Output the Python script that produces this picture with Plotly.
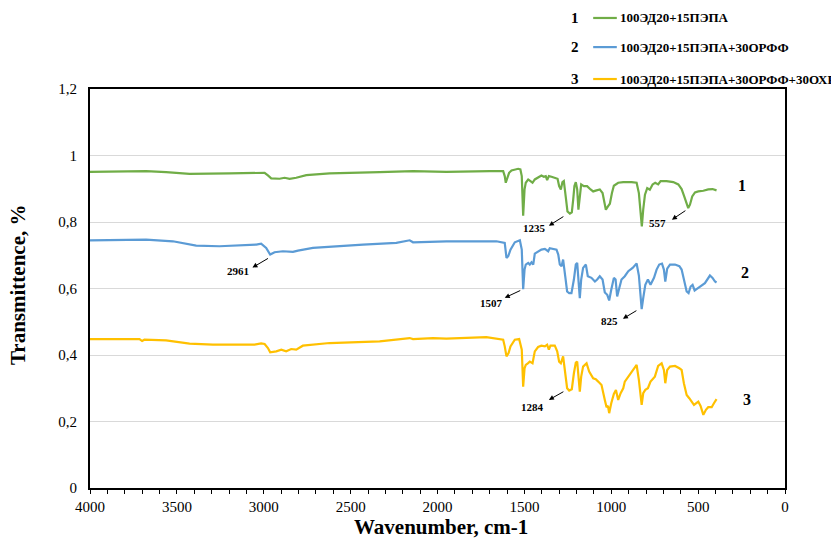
import plotly.graph_objects as go

# ---------------- data ----------------
wn_1 = [4003, 3677, 3562, 3427, 3197, 3024, 2995, 2976, 2957, 2909, 2880, 2851, 2813, 2755, 2621, 2333, 2141, 1949, 1757,
        1699, 1622, 1613, 1607, 1597, 1588, 1574, 1536, 1523, 1515, 1507, 1499, 1492, 1478, 1465, 1453, 1440, 1421, 1402,
        1388, 1377, 1369, 1359, 1344, 1325, 1309, 1300, 1290, 1281, 1273, 1261, 1252, 1238, 1227, 1219, 1212, 1204, 1196,
        1189, 1181, 1173, 1158, 1139, 1119, 1104, 1085, 1066, 1050, 1041, 1031, 1019, 1008, 996, 985, 960, 931, 883, 854,
        841, 831, 824, 816, 806, 793, 778, 762, 747, 730, 716, 682, 643, 614, 595, 580, 566, 557, 547, 534, 518, 499, 470,
        442, 417, 403, 394]
tr_1 = [0.951, 0.953, 0.950, 0.945, 0.946, 0.948, 0.948, 0.940, 0.931, 0.930, 0.933, 0.930, 0.933, 0.941, 0.946, 0.950, 0.953, 0.951, 0.954,
        0.953, 0.953, 0.938, 0.918, 0.933, 0.948, 0.955, 0.960, 0.958, 0.938, 0.819, 0.898, 0.918, 0.928, 0.923, 0.918, 0.928, 0.935, 0.940,
        0.936, 0.938, 0.926, 0.938, 0.936, 0.933, 0.930, 0.908, 0.898, 0.920, 0.923, 0.872, 0.832, 0.825, 0.829, 0.867, 0.908, 0.920, 0.898,
        0.837, 0.877, 0.913, 0.908, 0.908, 0.898, 0.892, 0.895, 0.898, 0.887, 0.862, 0.837, 0.847, 0.855, 0.887, 0.909, 0.918, 0.920, 0.920, 0.918,
        0.887, 0.827, 0.787, 0.837, 0.882, 0.902, 0.897, 0.913, 0.918, 0.913, 0.923, 0.923, 0.920, 0.913, 0.899, 0.877, 0.852, 0.842, 0.852, 0.877, 0.889, 0.892, 0.894,
        0.898, 0.899, 0.895, 0.895]

wn_2 = [4003, 3677, 3523, 3389, 3255, 3101, 3043, 3015, 2986, 2963, 2938, 2890, 2832, 2803, 2717, 2429, 2237, 2160, 2141, 1949, 1661,
        1613, 1603, 1593, 1580, 1555, 1526, 1515, 1507, 1499, 1492, 1478, 1469, 1459, 1449, 1440, 1421, 1402, 1382, 1373, 1363,
        1354, 1334, 1315, 1305, 1296, 1286, 1277, 1265, 1254, 1242, 1229, 1215, 1204, 1196, 1188, 1181, 1173, 1162, 1146, 1135,
        1114, 1094, 1081, 1066, 1050, 1037, 1023, 1012, 1000, 985, 975, 966, 954, 941, 922, 902, 877, 854, 841, 831, 825, 816,
        804, 789, 774, 754, 739, 724, 708, 697, 689, 678, 662, 633, 608, 595, 582, 566, 555, 543, 532, 520, 509, 490, 461, 432,
        417, 403, 394]
tr_2 = [0.745, 0.747, 0.742, 0.729, 0.727, 0.730, 0.732, 0.735, 0.722, 0.702, 0.709, 0.712, 0.710, 0.714, 0.722, 0.732, 0.737, 0.745, 0.739, 0.742, 0.742,
        0.737, 0.692, 0.697, 0.717, 0.739, 0.745, 0.717, 0.598, 0.657, 0.672, 0.677, 0.672, 0.679, 0.672, 0.705, 0.712, 0.717, 0.719, 0.715, 0.712,
        0.721, 0.719, 0.717, 0.702, 0.672, 0.667, 0.687, 0.637, 0.591, 0.586, 0.586, 0.627, 0.672, 0.677, 0.616, 0.571, 0.627, 0.662, 0.672, 0.637,
        0.632, 0.621, 0.627, 0.637, 0.627, 0.588, 0.581, 0.564, 0.596, 0.632, 0.627, 0.576, 0.601, 0.627, 0.637, 0.652, 0.662, 0.675, 0.639, 0.576, 0.538, 0.571,
        0.611, 0.627, 0.611, 0.632, 0.657, 0.672, 0.675, 0.657, 0.621, 0.660, 0.672, 0.672, 0.667, 0.657, 0.627, 0.591, 0.586, 0.606, 0.611, 0.594, 0.598, 0.606, 0.616, 0.639,
        0.632, 0.621, 0.618]

wn_3 = [4003, 3715, 3700, 3687, 3562, 3427, 3293, 3101, 3053, 3015, 2995, 2976, 2963, 2928, 2899, 2871, 2842, 2813, 2775, 2621, 2333,
        2160, 2141, 2026, 1949, 1719, 1661,
        1622, 1613, 1603, 1591, 1580, 1555, 1530, 1515, 1507, 1499, 1492, 1480, 1469, 1453, 1440, 1421, 1402, 1382, 1369, 1359,
        1350, 1325, 1311, 1300, 1290, 1277, 1265, 1254, 1242, 1227, 1215, 1204, 1196, 1188, 1181, 1173, 1162, 1142, 1127, 1104,
        1089, 1075, 1056, 1037, 1027, 1019, 1012, 1000, 985, 973, 960, 946, 931, 922, 902, 877, 854, 841, 831, 825, 816, 804, 789,
        774, 749, 730, 710, 697, 689, 678, 662, 633, 608, 595, 582, 566, 551, 537, 524, 499, 486, 470, 455, 442, 422, 409, 394]
tr_3 = [0.448, 0.448, 0.442, 0.446, 0.444, 0.434, 0.431, 0.431, 0.431, 0.435, 0.433, 0.421, 0.408, 0.411, 0.416, 0.411, 0.418, 0.416, 0.428, 0.436, 0.441,
        0.451, 0.448, 0.451, 0.449, 0.454, 0.449,
        0.446, 0.426, 0.396, 0.406, 0.426, 0.446, 0.448, 0.416, 0.305, 0.360, 0.370, 0.375, 0.380, 0.375, 0.411, 0.424, 0.428, 0.426, 0.431, 0.416,
        0.428, 0.428, 0.411, 0.380, 0.375, 0.396, 0.345, 0.300, 0.293, 0.297, 0.345, 0.377, 0.380, 0.335, 0.290, 0.335, 0.365, 0.375, 0.350, 0.330,
        0.327, 0.320, 0.310, 0.265, 0.243, 0.247, 0.225, 0.255, 0.283, 0.295, 0.265, 0.285, 0.300, 0.320, 0.335, 0.355, 0.370, 0.325, 0.275, 0.250, 0.285, 0.295, 0.300,
        0.320, 0.335, 0.367, 0.375, 0.355, 0.315, 0.355, 0.365, 0.367, 0.360, 0.355, 0.315, 0.280, 0.270, 0.260, 0.250, 0.260, 0.247, 0.220, 0.235, 0.243, 0.243, 0.255, 0.267]

series_names = ["100ЭД20+15ПЭПА", "100ЭД20+15ПЭПА+30ОРФФ", "100ЭД20+15ПЭПА+30ОРФФ+30ОХРА"]
series_numbers = ["1", "2", "3"]
colors = ["#70AD47", "#5B9BD5", "#FFC000"]

y_ticks = [0, 0.2, 0.4, 0.6, 0.8, 1.0, 1.2]
y_ticktext = ["0", "0,2", "0,4", "0,6", "0,8", "1", "1,2"]
x_ticks = [4000, 3500, 3000, 2500, 2000, 1500, 1000, 500, 0]

# peak labels: (text, arrow head x, arrow head y, text x, text y)
peaks = [
    ("1235", 1359, 0.789, 1440, 0.783),
    ("557", 651, 0.807, 732, 0.798),
    ("1507", 1613, 0.572, 1688, 0.557),
    ("825", 933, 0.509, 1008, 0.503),
    ("1284", 1359, 0.265, 1452, 0.244),
    ("2961", 3065, 0.663, 3151, 0.654),
]
peak_arrow_offsets = [(16, -10), (15, -10), (17, -8), (15, -9), (16, -9), (17, -10)]

# ---------------- figure ----------------
SERIF = "Liberation Serif, Times New Roman, serif"
fig = go.Figure()
for wn, tr, name, c in zip([wn_1, wn_2, wn_3], [tr_1, tr_2, tr_3], series_names, colors):
    fig.add_trace(go.Scatter(x=wn, y=tr, mode="lines", name=name,
                             line=dict(color=c, width=2.2), showlegend=False))

annotations = []
shapes = []

# custom legend (top right, outside plot)
leg_y = [1.178, 1.105, 1.025]
for num, name, c, ly in zip(series_numbers, series_names, colors, leg_y):
    annotations.append(dict(xref="paper", yref="paper", x=0.698, y=ly, text="<b>%s</b>" % num,
                            showarrow=False, xanchor="center", yanchor="middle",
                            font=dict(family=SERIF, size=15, color="#000")))
    shapes.append(dict(type="line", xref="paper", yref="paper", x0=0.724, x1=0.758, y0=ly, y1=ly,
                       line=dict(color=c, width=2.2)))
    annotations.append(dict(xref="paper", yref="paper", x=0.760, y=ly, text="<b>%s</b>" % name,
                            showarrow=False, xanchor="left", yanchor="middle",
                            font=dict(family=SERIF, size=13, color="#000")))

# curve numbers inside plot
curve_label_pos = [(248, 0.910), (230, 0.648), (219, 0.265)]
for num, (cx, cy) in zip(series_numbers, curve_label_pos):
    annotations.append(dict(x=cx, y=cy, text="<b>%s</b>" % num, showarrow=False,
                            xanchor="center", yanchor="middle",
                            font=dict(family=SERIF, size=16, color="#000")))

# peak labels with arrows
for (txt, hx, hy, tx, ty), (ax, ay) in zip(peaks, peak_arrow_offsets):
    annotations.append(dict(x=hx, y=hy, ax=ax, ay=ay, text="", showarrow=True,
                            arrowhead=2, arrowsize=1, arrowwidth=1, arrowcolor="#000"))
    annotations.append(dict(x=tx, y=ty, text="<b>%s</b>" % txt, showarrow=False,
                            xanchor="center", yanchor="middle",
                            font=dict(family=SERIF, size=11, color="#000")))

# axis titles
annotations.append(dict(xref="paper", yref="paper", x=0.505, y=-0.098, text="<b>Wavenumber, cm-1</b>",
                        showarrow=False, xanchor="center", yanchor="middle",
                        font=dict(family=SERIF, size=21, color="#000")))
annotations.append(dict(xref="paper", yref="paper", x=-0.1036, y=0.511, text="<b>Transmittence, %</b>",
                        showarrow=False, xanchor="center", yanchor="middle", textangle=-90,
                        font=dict(family=SERIF, size=21, color="#000")))

# page body has an 8px default margin, so compensate in the figure margins
fig.update_layout(
    width=839, height=540,
    margin=dict(l=82, r=62, t=81, b=60),
    paper_bgcolor="white", plot_bgcolor="white",
    font=dict(family=SERIF, size=15, color="#000"),
    annotations=annotations, shapes=shapes,
    xaxis=dict(range=[4000, 0], tickvals=x_ticks, showgrid=False, zeroline=False,
               showline=True, linecolor="#000", linewidth=2, mirror=True,
               ticks="outside", ticklen=4, tickwidth=1, tickcolor="#000",
               minor=dict(dtick=100, ticks="outside", ticklen=4, tickwidth=1, tickcolor="#000", showgrid=False),
               tickfont=dict(family=SERIF, size=15, color="#000"), ticklabelstandoff=0),
    yaxis=dict(range=[0, 1.2], tickvals=y_ticks, ticktext=y_ticktext, showgrid=True,
               gridcolor="#d9d9d9", gridwidth=1, zeroline=False,
               showline=True, linecolor="#000", linewidth=2, mirror=True, ticks="",
               tickfont=dict(family=SERIF, size=15, color="#000"), ticklabelstandoff=8),
)

fig.write_html("out.html")
